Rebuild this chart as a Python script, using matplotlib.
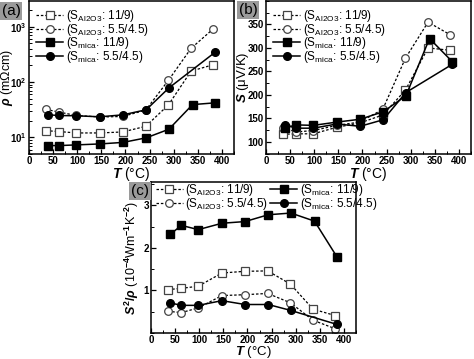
import matplotlib
matplotlib.use('Agg')
import matplotlib.pyplot as plt
from matplotlib.ticker import MultipleLocator, LogLocator, NullFormatter

plt.rcParams['font.family'] = ['Liberation Sans', 'DejaVu Sans']
plt.rcParams['font.weight'] = 'bold'
plt.rcParams['mathtext.fontset'] = 'custom'
plt.rcParams['mathtext.rm'] = 'Liberation Sans:bold'
plt.rcParams['mathtext.it'] = 'Liberation Sans:italic:bold'
plt.rcParams['mathtext.bf'] = 'Liberation Sans:bold'

# temperatures (deg C)
T_al = [35, 63, 98, 147, 194, 242, 289, 336, 382]
T_mica = [40, 63, 98, 147, 195, 243, 290, 339, 386]
T_mica55 = [40, 62, 98, 147, 195, 243, 290, 386]

# (a) resistivity, mOhm cm
rho_al_11 = [13.2, 12.7, 12.0, 12.0, 12.5, 15.8, 38.5, 157, 205]
rho_al_55 = [32, 28.5, 24.8, 23.3, 23.8, 31, 107, 405, 910]
rho_mica_11 = [7.1, 7.1, 7.3, 7.6, 8.1, 9.8, 14.0, 39, 42]
rho_mica_55 = [25.5, 24.8, 24.5, 23.5, 25.5, 31.5, 78, 345]

# (b) Seebeck, uV/K
S_al_11 = [116, 117, 117, 131, 140, 157, 210, 300, 295]
S_al_55 = [130, 121, 124, 135, 142, 169, 278, 355, 328]
S_mica_11 = [130, 136, 135, 142, 148, 164, 198, 320, 271]
S_mica_55 = [136, 129, 129, 138, 133, 147, 205, 265]

# (c) power factor, 1e-4 W/mK^2
PF_al_11 = [1.02, 1.05, 1.10, 1.41, 1.45, 1.46, 1.15, 0.56, 0.41]
PF_al_55 = [0.51, 0.48, 0.59, 0.88, 0.90, 0.93, 0.71, 0.30, 0.10]
PF_mica_11 = [2.32, 2.53, 2.43, 2.58, 2.62, 2.78, 2.82, 2.63, 1.78]
PF_mica_55 = [0.71, 0.65, 0.65, 0.76, 0.67, 0.67, 0.53, 0.20]

labels = [r'(S$_{\mathregular{Al2O3}}$: 11/9)', r'(S$_{\mathregular{Al2O3}}$: 5.5/4.5)',
          r'(S$_{\mathregular{mica}}$: 11/9)', r'(S$_{\mathregular{mica}}$: 5.5/4.5)']

dot = (0, (2, 1.5))
W, H = 474, 359
fig = plt.figure(figsize=(W / 100, H / 100), dpi=100)


def box(l, r, t, b):
    return [l / W, 1 - b / H, (r - l) / W, (b - t) / H]


def draw(ax, y1, y2, y3, y4):
    h = []
    h += ax.plot(T_al, y1, ls=dot, color='k', lw=0.9, marker='s', ms=5.5,
                 mfc='white', mec='#444444', mew=0.9)
    h += ax.plot(T_al, y2, ls=dot, color='k', lw=0.9, marker='o', ms=5.5,
                 mfc='white', mec='#444444', mew=0.9)
    h += ax.plot(T_mica, y3, ls='-', color='k', lw=1.1, marker='s', ms=5.5,
                 mfc='k', mec='k')
    h += ax.plot(T_mica55, y4, ls='-', color='k', lw=1.1, marker='o', ms=5.5,
                 mfc='k', mec='k')
    return h


def style(ax, xlab_y, ylab_x, xsize=10):
    ax.set_xlim(0, 425)
    ax.xaxis.set_major_locator(MultipleLocator(50))
    ax.xaxis.set_minor_locator(MultipleLocator(25))
    ax.tick_params(which='both', direction='in', labelsize=7, pad=1.5)
    ax.tick_params(which='major', length=3.5, width=0.9)
    ax.tick_params(which='minor', length=2, width=0.7)
    for s in ax.spines.values():
        s.set_linewidth(1.1)
    ax.set_xlabel(r'$T$ (°C)', fontsize=xsize, va='center')
    ax.xaxis.set_label_coords(0.5, xlab_y)
    ax.yaxis.set_label_coords(ylab_x, 0.5)


def tag(x, y, s):
    fig.text(x / W, 1 - y / H, s, fontsize=11, fontweight='normal', va='center', ha='left',
             bbox=dict(boxstyle='square,pad=0.1', fc='#9a9a9a', ec='none'))


leg_kw = dict(frameon=False, prop=dict(weight='normal', size=8.5),
              handlelength=2.3, handletextpad=0.2, labelspacing=-0.2, borderaxespad=0.2)

# (a)
axa = fig.add_axes(box(29, 234, 1, 154))
ha = draw(axa, rho_al_11, rho_al_55, rho_mica_11, rho_mica_55)
axa.set_yscale('log')
axa.set_ylim(5, 2900)
axa.yaxis.set_major_locator(LogLocator(base=10))
axa.yaxis.set_minor_locator(LogLocator(base=10, subs=range(2, 10)))
axa.yaxis.set_minor_formatter(NullFormatter())
axa.set_ylabel(r'$\rho$ (mΩcm)', fontsize=9, va='center')
style(axa, -0.13, -0.105)
axa.legend(ha, labels, loc='upper left', **leg_kw)
tag(2, 11, '(a)')

# (b)
axb = fig.add_axes(box(266, 471, 1, 154))
hb = draw(axb, S_al_11, S_al_55, S_mica_11, S_mica_55)
axb.set_ylim(74, 400)
axb.set_yticks([100, 150, 200, 250, 300, 350])
axb.yaxis.set_minor_locator(MultipleLocator(25))
axb.set_ylabel(r'$S$ (μV/K)', fontsize=9.5, va='center')
style(axb, -0.13, -0.11)
axb.legend(hb, labels, loc='upper left', **leg_kw)
tag(239, 10, '(b)')

# (c)
axc = fig.add_axes(box(151, 356, 182, 333))
hc = draw(axc, PF_al_11, PF_al_55, PF_mica_11, PF_mica_55)
axc.set_ylim(0, 3.55)
axc.set_yticks([1, 2, 3])
axc.yaxis.set_minor_locator(MultipleLocator(0.5))
axc.set_ylabel(r'$S^2/\rho$ (10$^{-4}$Wm$^{-1}$K$^{-2}$)', fontsize=9, va='center')
style(axc, -0.125, -0.095, xsize=9.5)
kc = dict(leg_kw)
kc['borderaxespad'] = 0.0
axc.legend(hc, labels, loc='upper left', ncol=2, columnspacing=0.2,
           bbox_to_anchor=(0.0, 1.03), **kc)
tag(131, 191, '(c)')

fig.savefig('out.png', dpi=100)
